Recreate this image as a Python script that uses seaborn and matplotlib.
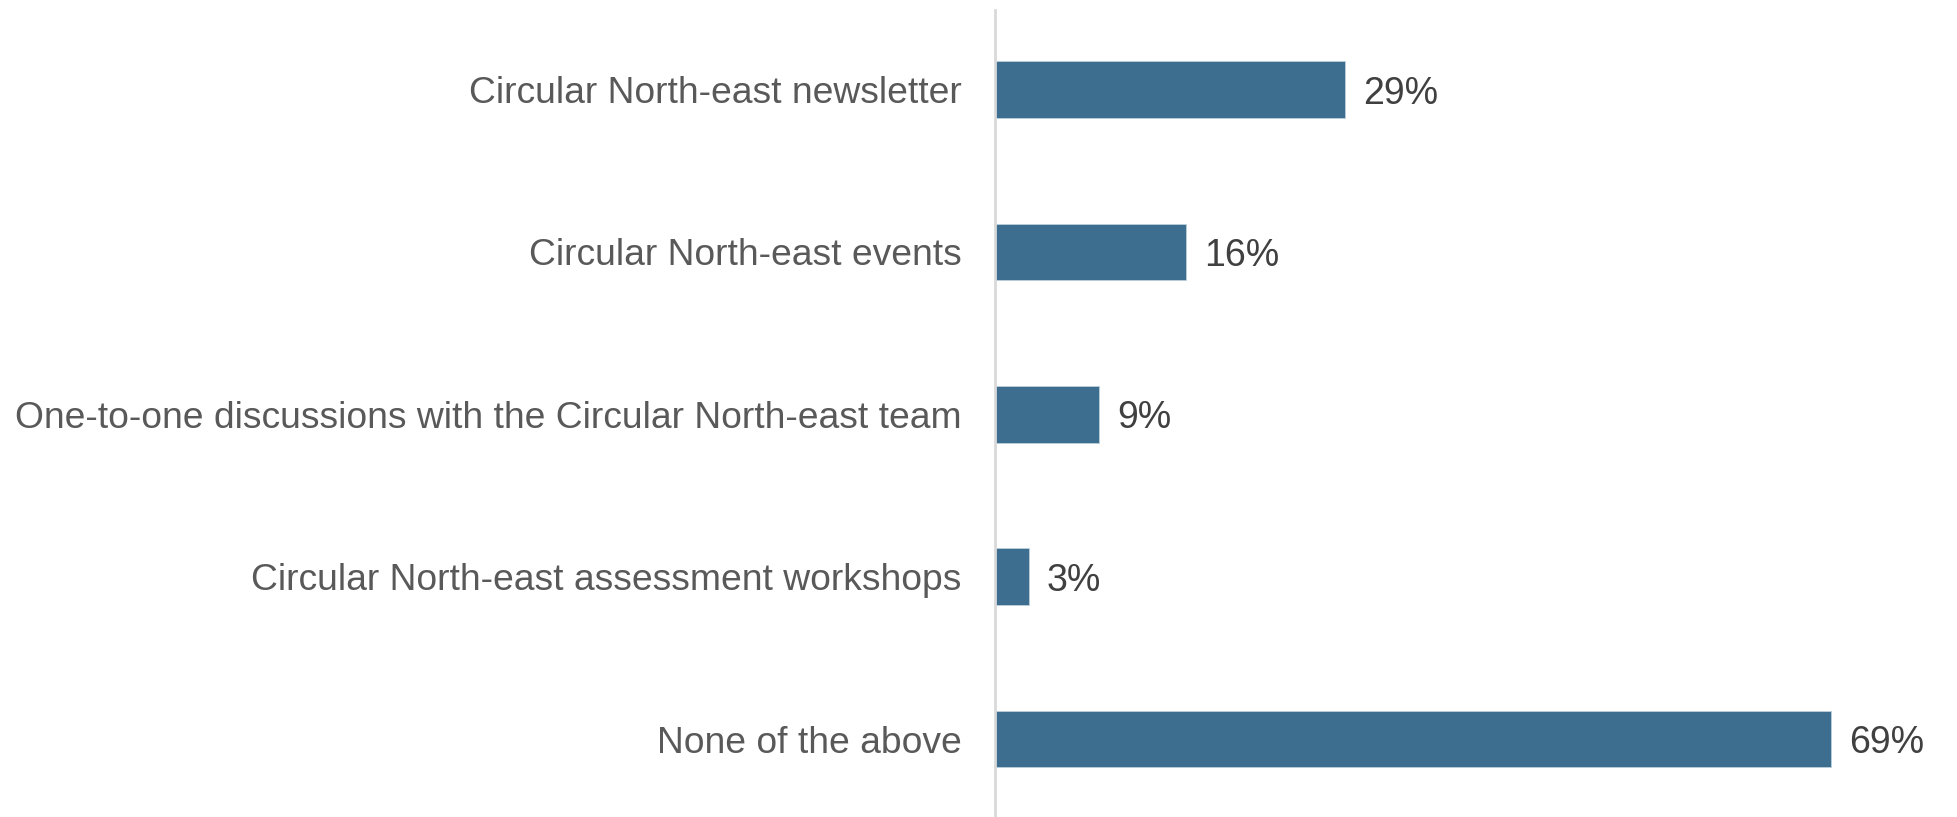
import matplotlib
matplotlib.use("Agg")
import matplotlib.pyplot as plt
import seaborn as sns
import pandas as pd

# data
categories = [
    "Circular North-east newsletter",
    "Circular North-east events",
    "One-to-one discussions with the Circular North-east team",
    "Circular North-east assessment workshops",
    "None of the above",
]
values = [28.9, 15.8, 8.6, 2.8, 69.1]
value_labels = ["29%", "16%", "9%", "3%", "69%"]

df = pd.DataFrame({"category": categories, "value": values})

sns.set_style("white")
plt.rcParams["font.family"] = ["Liberation Sans", "DejaVu Sans"]

fig = plt.figure(figsize=(19.57, 8.17), dpi=100)
ax = fig.add_axes([995 / 1957, 0.0, 1 - 995 / 1957, 1 - 10 / 817])

sns.barplot(data=df, x="value", y="category", color="#3d6e8f", width=0.35,
            saturation=1, ax=ax, edgecolor="#bcd0dc", linewidth=0.6)

ax.set_xlim(0, (1957 - 995) / 12.1)
ax.set_ylim(4.48, -0.49)

# value labels next to bars
for i, (v, lab) in enumerate(zip(values, value_labels)):
    ax.text(v + 1.5, i, lab, va="center_baseline", ha="left", fontsize=27,
            color="#404040")

ax.set_xlabel("")
ax.set_ylabel("")
ax.set_xticks([])
ax.tick_params(axis="y", length=0, pad=24, labelsize=26.8, labelcolor="#595959")

for s in ["top", "right", "bottom"]:
    ax.spines[s].set_visible(False)
ax.spines["left"].set_color("#d9d9d9")
ax.spines["left"].set_linewidth(2)

fig.savefig("out.png", dpi=100)
